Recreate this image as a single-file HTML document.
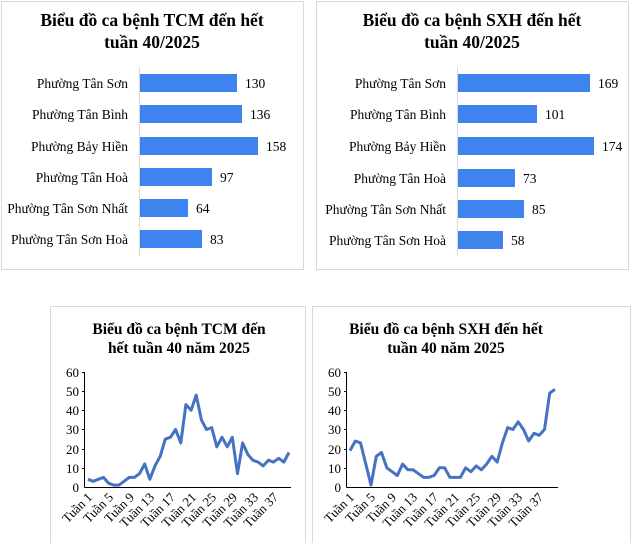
<!DOCTYPE html>
<html><head><meta charset="utf-8"><style>
body{margin:0;background:#fff;width:635px;height:543px;overflow:hidden}
svg{font-family:"Liberation Serif",serif}
</style></head><body>
<svg width="635" height="543" xmlns="http://www.w3.org/2000/svg">
<rect x="1.5" y="1.5" width="302" height="268" fill="#fff" stroke="#d9d9d9"/>
<rect x="316.5" y="1.5" width="312" height="268" fill="#fff" stroke="#d9d9d9"/>
<rect x="50.5" y="306.5" width="255" height="240" fill="#fff" stroke="#d9d9d9"/>
<rect x="312.5" y="306.5" width="318" height="240" fill="#fff" stroke="#d9d9d9"/>

<g font-weight="bold" font-size="17.5" text-anchor="middle" fill="#000">
<text x="152" y="26">Biểu đồ ca bệnh TCM đến hết</text>
<text x="152" y="48">tuần 40/2025</text>
<text x="472" y="26">Biểu đồ ca bệnh SXH đến hết</text>
<text x="472" y="48">tuần 40/2025</text>
</g>
<g font-weight="bold" font-size="15.5" text-anchor="middle" fill="#000">
<text x="179" y="334">Biểu đồ ca bệnh TCM đến</text>
<text x="179" y="353">hết tuần 40 năm 2025</text>
<text x="446" y="334">Biểu đồ ca bệnh SXH đến hết</text>
<text x="446" y="353">tuần 40 năm 2025</text>
</g>

<line x1="139.5" y1="67" x2="139.5" y2="256" stroke="#d9d9d9"/>
<g fill="#3f83ef">
<rect x="140" y="74" width="97" height="18"/>
<rect x="140" y="105" width="102" height="18"/>
<rect x="140" y="137" width="118" height="18"/>
<rect x="140" y="168" width="72" height="18"/>
<rect x="140" y="199" width="48" height="18"/>
<rect x="140" y="230" width="62" height="18"/>
</g>
<g font-size="13.5" text-anchor="end" fill="#000">
<text x="128" y="88">Phường Tân Sơn</text>
<text x="128" y="119">Phường Tân Bình</text>
<text x="128" y="151">Phường Bảy Hiền</text>
<text x="128" y="182">Phường Tân Hoà</text>
<text x="128" y="213">Phường Tân Sơn Nhất</text>
<text x="128" y="244">Phường Tân Sơn Hoà</text>
</g>
<g font-size="13.5" fill="#000">
<text x="245" y="88">130</text>
<text x="250" y="119">136</text>
<text x="266" y="151">158</text>
<text x="220" y="182">97</text>
<text x="196" y="213">64</text>
<text x="210" y="244">83</text>
</g>

<line x1="457.5" y1="67" x2="457.5" y2="256" stroke="#d9d9d9"/>
<g fill="#3f83ef">
<rect x="458" y="74" width="132" height="18"/>
<rect x="458" y="105" width="79" height="18"/>
<rect x="458" y="137" width="136" height="18"/>
<rect x="458" y="169" width="57" height="18"/>
<rect x="458" y="200" width="66" height="18"/>
<rect x="458" y="231" width="45" height="18"/>
</g>
<g font-size="13.5" text-anchor="end" fill="#000">
<text x="446" y="88">Phường Tân Sơn</text>
<text x="446" y="119">Phường Tân Bình</text>
<text x="446" y="151">Phường Bảy Hiền</text>
<text x="446" y="183">Phường Tân Hoà</text>
<text x="446" y="214">Phường Tân Sơn Nhất</text>
<text x="446" y="245">Phường Tân Sơn Hoà</text>
</g>
<g font-size="13.5" fill="#000">
<text x="598" y="88">169</text>
<text x="545" y="119">101</text>
<text x="602" y="151">174</text>
<text x="523" y="183">73</text>
<text x="532" y="214">85</text>
<text x="511" y="245">58</text>
</g>

<g stroke="#000" stroke-width="1">
<line x1="84.5" y1="372" x2="84.5" y2="487.5"/>
<line x1="84.5" y1="487.5" x2="291" y2="487.5"/>
<line x1="346.5" y1="372" x2="346.5" y2="487.5"/>
<line x1="346.5" y1="487.5" x2="558" y2="487.5"/>
</g>
<g stroke="#000">
<line x1="82" y1="372.5" x2="85" y2="372.5"/><line x1="82" y1="391.5" x2="85" y2="391.5"/><line x1="82" y1="410.5" x2="85" y2="410.5"/><line x1="82" y1="429.5" x2="85" y2="429.5"/><line x1="82" y1="449.5" x2="85" y2="449.5"/><line x1="82" y1="468.5" x2="85" y2="468.5"/>
<line x1="344" y1="372.5" x2="347" y2="372.5"/><line x1="344" y1="391.5" x2="347" y2="391.5"/><line x1="344" y1="410.5" x2="347" y2="410.5"/><line x1="344" y1="429.5" x2="347" y2="429.5"/><line x1="344" y1="449.5" x2="347" y2="449.5"/><line x1="344" y1="468.5" x2="347" y2="468.5"/>
</g>
<g font-size="13" text-anchor="end" fill="#000">
<text x="79" y="377">60</text><text x="79" y="396">50</text><text x="79" y="415">40</text><text x="79" y="434">30</text><text x="79" y="454">20</text><text x="79" y="473">10</text><text x="79" y="492">0</text>
<text x="341" y="377">60</text><text x="341" y="396">50</text><text x="341" y="415">40</text><text x="341" y="434">30</text><text x="341" y="454">20</text><text x="341" y="473">10</text><text x="341" y="492">0</text>
</g>
<g font-size="13" text-anchor="end" fill="#000">
<text transform="translate(93,498) rotate(-45)">Tuần 1</text>
<text transform="translate(114,498) rotate(-45)">Tuần 5</text>
<text transform="translate(135,498) rotate(-45)">Tuần 9</text>
<text transform="translate(155,498) rotate(-45)">Tuần 13</text>
<text transform="translate(176,498) rotate(-45)">Tuần 17</text>
<text transform="translate(197,498) rotate(-45)">Tuần 21</text>
<text transform="translate(217,498) rotate(-45)">Tuần 25</text>
<text transform="translate(238,498) rotate(-45)">Tuần 29</text>
<text transform="translate(259,498) rotate(-45)">Tuần 33</text>
<text transform="translate(279,498) rotate(-45)">Tuần 37</text>
<text transform="translate(355,498) rotate(-45)">Tuần 1</text>
<text transform="translate(376,498) rotate(-45)">Tuần 5</text>
<text transform="translate(397,498) rotate(-45)">Tuần 9</text>
<text transform="translate(418,498) rotate(-45)">Tuần 13</text>
<text transform="translate(439,498) rotate(-45)">Tuần 17</text>
<text transform="translate(460,498) rotate(-45)">Tuần 21</text>
<text transform="translate(481,498) rotate(-45)">Tuần 25</text>
<text transform="translate(502,498) rotate(-45)">Tuần 29</text>
<text transform="translate(523,498) rotate(-45)">Tuần 33</text>
<text transform="translate(544,498) rotate(-45)">Tuần 37</text>
</g>
<polyline id="l1" fill="none" stroke="#4472c4" stroke-width="3" stroke-linejoin="round"/>
<polyline id="l2" fill="none" stroke="#4472c4" stroke-width="3" stroke-linejoin="round"/>
</svg>
<script>
function pts(d,x0,x1){var s=[],dx=(x1-x0)/(d.length-1);for(var i=0;i<d.length;i++)s.push((x0+i*dx).toFixed(1)+","+(487-d[i]*115/60).toFixed(1));return s.join(" ");}
var a=[4,3,4,5,2,1,1,3,5,5,7,12,4,11,16,25,26,30,23,43,40,48,35,30,31,21,26,21,26,7,23,17,14,13,11,14,13,15,13,18];
var b=[19,24,23,12,1,16,18,10,8,6,12,9,9,7,5,5,6,10,10,5,5,5,10,8,11,9,12,16,13,23,31,30,34,30,24,28,27,30,49,51];
document.getElementById("l1").setAttribute("points",pts(a,88,289));
document.getElementById("l2").setAttribute("points",pts(b,350,555));
</script>
</body></html>
